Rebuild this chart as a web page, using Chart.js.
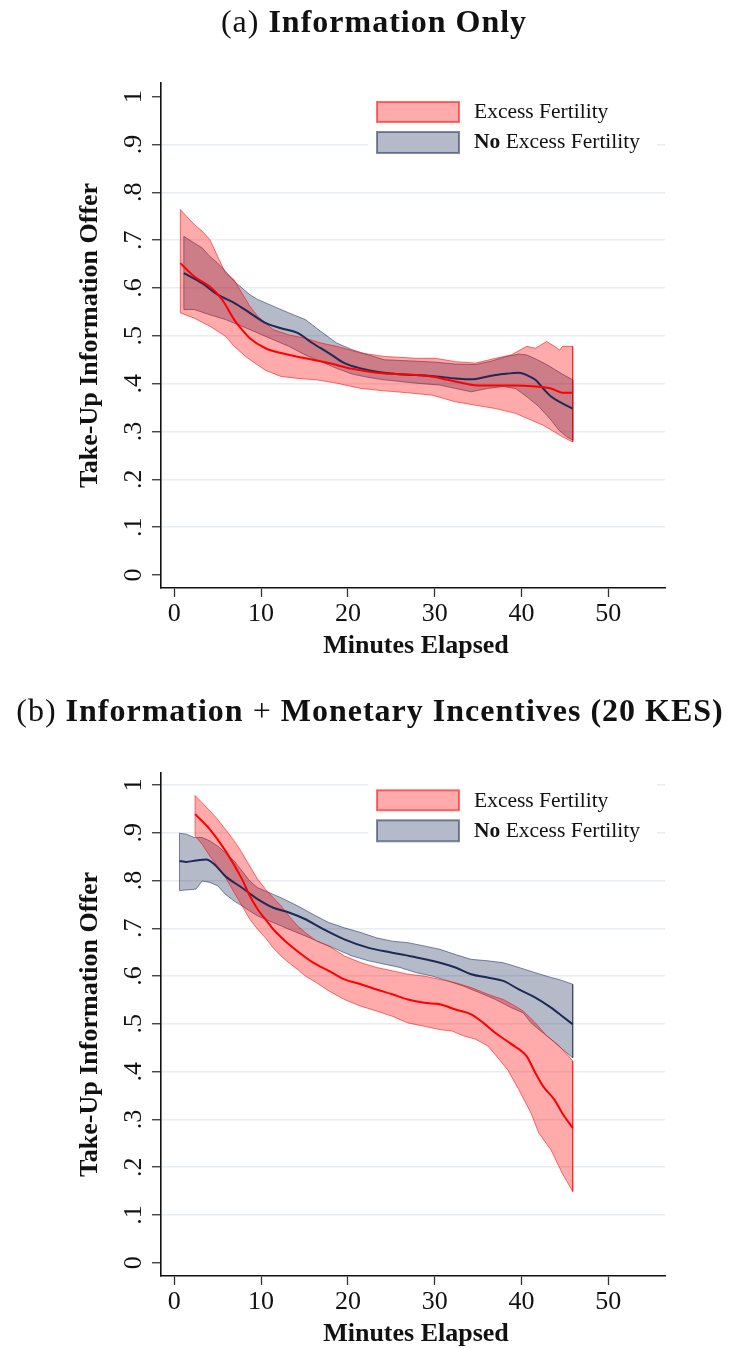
<!DOCTYPE html>
<html>
<head>
<meta charset="utf-8">
<script src="https://cdn.jsdelivr.net/npm/chart.js@4.4.0/dist/chart.umd.min.js"></script>
<style>
  html, body { margin: 0; padding: 0; background: #fff; }
  body { width: 730px; height: 1349px; position: relative; overflow: hidden; font-family: "Liberation Serif", "Times New Roman", serif; }
  canvas { position: absolute; left: 0; }
  .title { position: absolute; width: 730px; text-align: center; font-size: 32px; line-height: 34px; letter-spacing: 1px; color: #111; white-space: nowrap; z-index: 2; }
</style>
</head>
<body>
<canvas id="chart-a" width="730" height="688" style="top:0"></canvas>
<canvas id="chart-b" width="730" height="661" style="top:688px"></canvas>
<div class="title" style="top:4px; left:9px">(a) <b>Information Only</b></div>
<div class="title" style="top:693px; left:5px">(b) <b>Information</b> + <b>Monetary Incentives (20 KES)</b></div>
<script>
// axes
const xTicks = [0, 10, 20, 30, 40, 50];
const yTicks = [0, .1, .2, .3, .4, .5, .6, .7, .8, .9, 1];
const yTickText = ['0', '.1', '.2', '.3', '.4', '.5', '.6', '.7', '.8', '.9', '1'];
const xTitle = 'Minutes Elapsed';
const yTitle = 'Take-Up Information Offer';
// [bold part, regular part]
const legendLabels = [['', 'Excess Fertility'], ['No', ' Excess Fertility']];

// panel (a) information only -- [minutes, take-up]
const aRedHi = [[0.7,.764],[1.4,.75],[2.3,.733],[3.2,.719],[4.1,.701],[5.0,.666],[5.9,.631],[6.9,.617],[7.8,.589],[8.7,.562],[9.6,.541],[11.4,.513],[13.2,.502],[15.1,.495],[16.9,.485],[18.7,.478],[21.5,.464],[24.2,.457],[27.9,.453],[30.1,.453],[32.4,.446],[34.7,.443],[37.0,.453],[38.8,.46],[40.6,.478],[41.6,.474],[42.9,.488],[43.8,.478],[44.4,.47],[44.7,.478],[45.9,.478]];
const aRedLo = [[0.7,.548],[2.3,.537],[4.1,.52],[5.9,.499],[6.9,.478],[8.2,.457],[9.6,.439],[10.5,.428],[12.3,.415],[14.2,.411],[16.4,.408],[18.7,.401],[21.5,.39],[24.2,.385],[26.9,.381],[29.7,.376],[32.4,.362],[34.7,.355],[37.0,.348],[39.3,.338],[41.1,.324],[42.5,.313],[43.8,.299],[44.7,.289],[45.9,.278]];
const aRedMean = [[0.7,.652],[2.3,.624],[4.1,.603],[5.5,.576],[6.9,.534],[7.8,.513],[8.7,.495],[10.5,.474],[12.3,.464],[15.1,.453],[17.8,.443],[20.5,.431],[23.3,.423],[25.6,.42],[27.9,.418],[29.7,.415],[31.5,.408],[33.3,.401],[35.2,.396],[37.0,.396],[39.3,.396],[41.6,.394],[43.4,.39],[44.7,.381],[45.9,.381]];
const aNavyHi = [[1.1,.708],[2.3,.694],[3.2,.684],[4.1,.666],[5.0,.652],[5.9,.635],[6.9,.614],[7.8,.6],[8.7,.586],[9.6,.576],[11.4,.562],[13.2,.548],[15.1,.534],[16.9,.509],[18.7,.485],[20.5,.471],[22.4,.46],[24.2,.45],[27.9,.447],[30.1,.445],[32.4,.441],[34.7,.44],[36.5,.447],[38.3,.457],[39.7,.462],[40.6,.46],[41.6,.452],[42.9,.44],[43.8,.43],[44.7,.42],[45.9,.408]];
const aNavyLo = [[1.1,.555],[2.3,.555],[4.1,.544],[5.9,.534],[7.8,.52],[9.6,.506],[11.4,.492],[13.2,.478],[15.1,.46],[16.9,.446],[18.7,.432],[20.5,.42],[22.4,.413],[24.2,.408],[27.9,.401],[30.6,.397],[32.4,.39],[34.2,.383],[36.1,.39],[37.9,.394],[39.3,.39],[40.6,.373],[42.0,.352],[43.4,.324],[44.3,.303],[45.2,.289],[45.9,.282]];
const aNavyMean = [[1.1,.631],[3.2,.61],[5.0,.586],[6.9,.569],[8.7,.548],[10.5,.527],[12.3,.516],[14.2,.506],[15.9,.485],[17.8,.464],[19.6,.443],[21.5,.432],[23.3,.425],[25.6,.42],[27.9,.418],[30.1,.415],[32.4,.411],[34.2,.409],[36.1,.415],[37.9,.42],[39.7,.423],[40.6,.418],[41.6,.408],[42.5,.39],[43.4,.373],[44.7,.359],[45.9,.348]];

// panel (b) information + 20 KES
const bRedHi = [[2.4,.978],[3.2,.963],[4.1,.946],[5.0,.928],[5.9,.907],[6.9,.883],[7.8,.858],[8.7,.83],[9.6,.803],[10.5,.782],[11.4,.764],[12.3,.747],[13.2,.726],[14.2,.705],[15.1,.691],[16.4,.673],[17.8,.663],[19.6,.642],[21.5,.628],[23.3,.618],[25.1,.611],[26.9,.604],[28.8,.6],[30.6,.593],[32.4,.586],[34.2,.576],[36.1,.562],[37.9,.551],[39.3,.537],[40.2,.527],[41.6,.502],[42.9,.475],[44.3,.454],[45.4,.433],[45.9,.422]];
const bRedLo = [[2.4,.893],[3.2,.876],[4.1,.851],[5.0,.83],[5.9,.806],[6.9,.775],[7.8,.747],[8.7,.719],[9.6,.698],[10.5,.68],[11.4,.659],[12.3,.642],[13.2,.628],[14.2,.614],[15.1,.6],[16.4,.586],[17.8,.569],[19.6,.551],[21.5,.537],[23.3,.527],[25.1,.516],[26.9,.502],[28.8,.495],[30.6,.488],[32.0,.485],[33.3,.475],[34.7,.468],[36.1,.454],[37.0,.435],[38.4,.404],[39.7,.362],[41.1,.313],[42.0,.271],[43.4,.236],[44.7,.187],[45.9,.149]];
const bRedMean = [[2.4,.939],[4.1,.907],[5.9,.862],[7.8,.803],[8.7,.768],[9.6,.74],[10.5,.719],[11.4,.698],[12.8,.673],[14.2,.652],[16.0,.628],[17.8,.611],[19.6,.593],[21.5,.583],[23.3,.572],[25.1,.562],[26.9,.551],[28.8,.544],[30.6,.541],[32.4,.53],[34.2,.52],[35.6,.502],[37.0,.481],[38.8,.458],[40.6,.432],[41.6,.397],[42.5,.369],[43.8,.341],[44.7,.313],[45.9,.282]];
const bNavyHi = [[0.6,.899],[1.4,.897],[2.3,.89],[3.2,.89],[4.1,.883],[5.0,.872],[5.9,.858],[6.9,.841],[7.8,.82],[8.7,.799],[9.6,.785],[10.5,.778],[11.4,.771],[12.3,.764],[14.2,.747],[16.0,.729],[17.8,.712],[19.6,.701],[21.5,.691],[23.3,.68],[25.1,.673],[26.9,.67],[28.8,.663],[30.6,.656],[32.4,.645],[34.2,.635],[36.1,.632],[37.9,.628],[39.7,.618],[41.6,.607],[43.4,.597],[44.3,.593],[45.9,.583]];
const bNavyLo = [[0.6,.779],[2.5,.782],[3.2,.799],[4.1,.796],[5.0,.789],[5.9,.771],[6.9,.757],[7.8,.747],[8.7,.736],[9.6,.726],[11.4,.712],[13.2,.698],[15.1,.684],[16.9,.67],[18.7,.656],[20.5,.642],[22.4,.632],[24.2,.625],[26.0,.618],[27.9,.607],[29.7,.6],[31.5,.59],[33.3,.579],[35.2,.565],[37.0,.551],[38.8,.534],[40.2,.523],[41.1,.502],[42.0,.488],[43.4,.468],[44.7,.447],[45.9,.429]];
const bNavyMean = [[0.6,.841],[1.4,.839],[2.5,.842],[3.7,.844],[4.6,.834],[5.9,.809],[7.8,.785],[9.6,.761],[11.4,.743],[13.2,.733],[15.1,.719],[16.9,.701],[19.6,.677],[22.4,.659],[25.1,.649],[27.9,.639],[30.6,.628],[32.4,.618],[34.2,.604],[36.1,.597],[37.9,.59],[39.7,.572],[41.6,.555],[43.4,.534],[44.7,.516],[45.9,.499]];

const RED = 'rgb(255,0,0)';
const RED_FILL = 'rgba(255,0,0,0.33)';
const RED_EDGE = 'rgba(255,0,0,0.55)';
const NAVY = 'rgb(28,42,85)';
const NAVY_FILL = 'rgba(30,45,90,0.33)';
const NAVY_EDGE = 'rgba(30,45,90,0.55)';
const SERIF = '"Liberation Serif", "Times New Roman", serif';

const toXY = arr => arr.map(([x, y]) => ({ x, y }));

// closed outline: upper edge left->right, lower edge back, then close
function band(upper, lower) {
    const pts = toXY(upper).concat(toXY(lower).reverse());
    pts.push(pts[0]);
    return pts;
}

// stata style tick labels, axis titles and legend
const stataText = {
    id: 'stataText',
    afterDraw(chart) {
        const { ctx, chartArea: a, scales: { x, y } } = chart;
        ctx.save();
        ctx.fillStyle = '#111';
        ctx.textBaseline = 'alphabetic';
        ctx.textAlign = 'center';
        ctx.font = '26px ' + SERIF;
        xTicks.forEach(v => ctx.fillText(String(v), x.getPixelForValue(v), a.bottom + 33));
        yTicks.forEach((v, i) => {
            ctx.save();
            ctx.translate(a.left - 20, y.getPixelForValue(v));
            ctx.rotate(-Math.PI / 2);
            ctx.fillText(yTickText[i], 0, 0);
            ctx.restore();
        });

        ctx.font = 'bold 26px ' + SERIF;
        ctx.fillText(xTitle, (a.left + a.right) / 2 + 3, a.bottom + 65);
        ctx.save();
        ctx.translate(97, (a.top + a.bottom) / 2);
        ctx.rotate(-Math.PI / 2);
        ctx.fillText(yTitle, 0, 0);
        ctx.restore();

        // legend box
        const y1 = y.getPixelForValue(1);
        ctx.fillStyle = '#fff';
        ctx.fillRect(368, y1 - 8, 289, 77);
        const keys = [[RED_FILL, RED_EDGE, 5.3, 20], [NAVY_FILL, NAVY_EDGE, 35.3, 21]];
        ctx.lineWidth = 2;
        keys.forEach(([fill, edge, dy, h], i) => {
            ctx.fillStyle = fill;
            ctx.fillRect(377, y1 + dy, 82, h);
            ctx.strokeStyle = edge;
            ctx.strokeRect(377, y1 + dy, 82, h);
            const base = y1 + dy + 16.3;
            let tx = 474;
            ctx.fillStyle = '#111';
            ctx.textAlign = 'left';
            const [bold, rest] = legendLabels[i];
            if (bold) {
                ctx.font = 'bold 21.5px ' + SERIF;
                ctx.fillText(bold, tx, base);
                tx += ctx.measureText(bold).width;
            }
            ctx.font = '21.5px ' + SERIF;
            ctx.fillText(rest, tx, base);
        });
        ctx.restore();
    }
};

function makePanel(id, p) {
    const canvas = document.getElementById(id);
    return new Chart(canvas, {
        type: 'scatter',
        data: {
            datasets: [
                { data: toXY(p.redMean), showLine: true, borderColor: RED, borderWidth: 2, pointRadius: 0, cubicInterpolationMode: 'monotone', order: 0 },
                { data: toXY(p.navyMean), showLine: true, borderColor: NAVY, borderWidth: 2, pointRadius: 0, cubicInterpolationMode: 'monotone', order: 1 },
                { data: band(p.redHi, p.redLo), showLine: true, fill: 'shape', backgroundColor: RED_FILL, borderColor: RED_EDGE, borderWidth: 1, pointRadius: 0, order: 2 },
                { data: band(p.navyHi, p.navyLo), showLine: true, fill: 'shape', backgroundColor: NAVY_FILL, borderColor: NAVY_EDGE, borderWidth: 1, pointRadius: 0, order: 3 }
            ]
        },
        options: {
            responsive: false,
            animation: false,
            events: [],
            layout: { padding: { left: 0, right: 65, top: p.top, bottom: 0 } },
            plugins: { legend: { display: false }, tooltip: { enabled: false } },
            scales: {
                x: {
                    type: 'linear', min: -1.53, max: 56.53,
                    afterBuildTicks: s => { s.ticks = xTicks.map(v => ({ value: v })); },
                    afterFit: s => { s.height = canvas.height - 588; },
                    ticks: { display: false },
                    grid: { drawOnChartArea: false, tickLength: 9, tickColor: '#333', tickWidth: 1.3 },
                    border: { display: true, color: '#111', width: 1.6 }
                },
                y: {
                    type: 'linear', min: p.yMin, max: p.yMax,
                    afterBuildTicks: s => { s.ticks = yTicks.map(v => ({ value: v })); },
                    afterFit: s => { s.width = 161; },
                    ticks: { display: false },
                    grid: {
                        color: c => p.gridAt.includes(c.tick.value) ? '#e6eef1' : 'rgba(0,0,0,0)',
                        lineWidth: 1.5, tickLength: 9, tickColor: '#333', tickWidth: 1.3
                    },
                    border: { display: true, color: '#111', width: 1.6 }
                }
            }
        },
        plugins: [stataText]
    });
}

makePanel('chart-a', {
    top: 83, yMin: -0.0272, yMax: 1.0286,
    gridAt: [.1, .2, .3, .4, .5, .6, .7, .8, .9],
    redHi: aRedHi, redLo: aRedLo, redMean: aRedMean,
    navyHi: aNavyHi, navyLo: aNavyLo, navyMean: aNavyMean
});
makePanel('chart-b', {
    top: 85, yMin: -0.0278, yMax: 1.0251,
    gridAt: [.1, .2, .3, .4, .5, .6, .7, .8, .9, 1],
    redHi: bRedHi, redLo: bRedLo, redMean: bRedMean,
    navyHi: bNavyHi, navyLo: bNavyLo, navyMean: bNavyMean
});
</script>
</body>
</html>
